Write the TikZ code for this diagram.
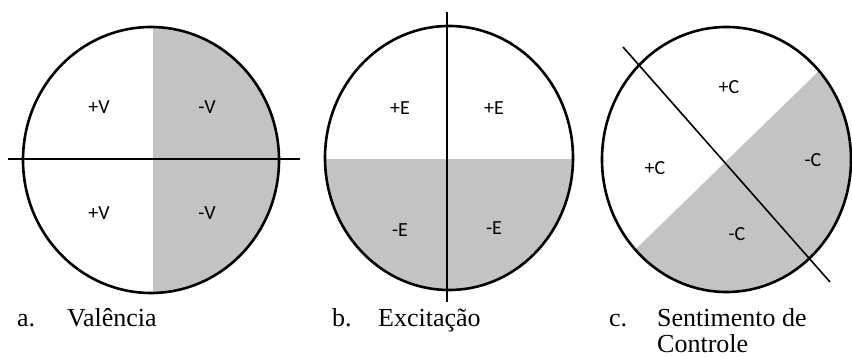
\documentclass[tikz,border=0pt]{standalone}
\usepackage{fontspec}
\setmainfont{Liberation Serif}
\newfontfamily\lblfont{Carlito}
\definecolor{shadegray}{RGB}{195,195,195}
\begin{document}
\begin{tikzpicture}[x=1pt,y=1pt,
  ring/.style={line width=2.6pt},
  axis/.style={line width=1.6pt},
  shadefill/.style={fill=shadegray},
  lbl/.style={font=\lblfont\fontsize{20}{22}\selectfont, inner sep=0pt},
  captext/.style={font=\fontsize{26}{28}\selectfont, anchor=base west, inner sep=0pt}]
\useasboundingbox (0,0) rectangle (852,358);
% ---- a. Valencia
\coordinate (c1) at (151,198);
\begin{scope}
  \clip (c1) ellipse [x radius=128pt, y radius=133pt];
  \fill[shadefill] (153,0) rectangle (300,358);
\end{scope}
\draw[ring] (c1) ellipse [x radius=128pt, y radius=133pt];
\coordinate (h1a) at (8,199);
\coordinate (h1b) at (300,199);
\draw[axis] (h1a) -- (h1b);
\node[lbl] (v1) at (99,251) {+V};
\node[lbl] (v2) at (207,251) {-V};
\node[lbl] (v3) at (99,145) {+V};
\node[lbl] (v4) at (207,145) {-V};
% ---- b. Excitacao
\coordinate (c2) at (449,200);
\begin{scope}
  \clip (c2) ellipse [x radius=124pt, y radius=132pt];
  \fill[shadefill] (300,0) rectangle (600,199);
\end{scope}
\draw[ring] (c2) ellipse [x radius=124pt, y radius=132pt];
\coordinate (v2a) at (447,346);
\coordinate (v2b) at (447,56);
\draw[axis] (v2a) -- (v2b);
\node[lbl] (e1) at (400,250) {+E};
\node[lbl] (e2) at (494,250) {+E};
\node[lbl] (e3) at (400,128) {-E};
\node[lbl] (e4) at (494,130) {-E};
% ---- c. Sentimento de Controle
\coordinate (c3) at (726.5,198.5);
\begin{scope}
  \clip (c3) ellipse [x radius=124.5pt, y radius=132.5pt];
  \fill[shadefill] (457,-65) -- (1006,469) -- (1006,-65) -- cycle;
\end{scope}
\draw[ring] (c3) ellipse [x radius=124.5pt, y radius=132.5pt];
\coordinate (d3a) at (623,311);
\coordinate (d3b) at (830,76);
\draw[axis] (d3a) -- (d3b);
\node[lbl] (k1) at (729,271) {+C};
\node[lbl] (k2) at (655,190) {+C};
\node[lbl] (k3) at (813,198) {-C};
\node[lbl] (k4) at (737,124) {-C};
% ---- captions
\node[captext] (ca) at (17,31) {a.};
\node[captext] (ta) at (67,31) {Valência};
\node[captext] (cb) at (332,31) {b.};
\node[captext] (tb) at (378,31) {Excitação};
\node[captext] (cc) at (609,31) {c.};
\node[captext] (tc) at (657,31) {Sentimento de};
\node[captext] (tc2) at (657,5) {Controle};
\end{tikzpicture}
\end{document}
